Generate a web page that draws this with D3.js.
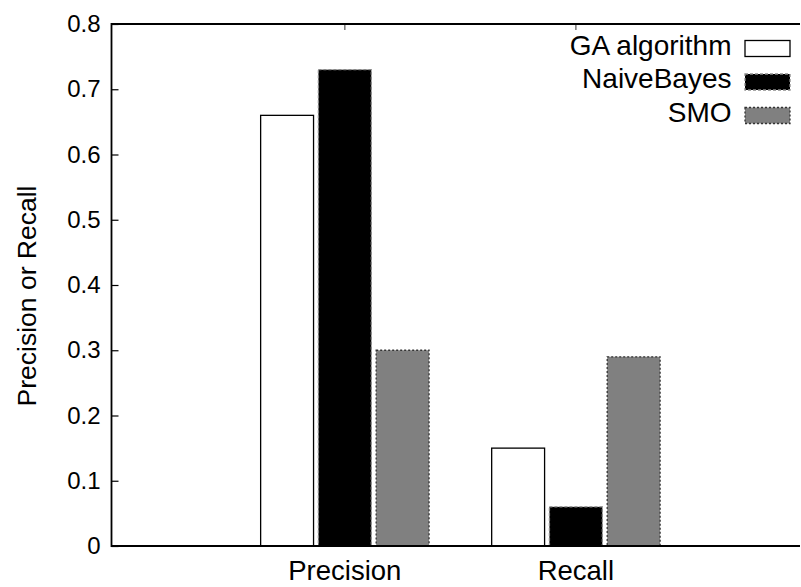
<!DOCTYPE html>
<html><head><meta charset="utf-8">
<script src="https://cdn.jsdelivr.net/npm/d3@7"></script>
<style>body{margin:0;background:#fff}svg{display:block}text{font-family:"Liberation Sans",Arial,sans-serif;fill:#000}</style>
</head><body>
<script>
const categories = ["Precision", "Recall"];
const seriesNames = ["GA algorithm", "NaiveBayes", "SMO"];
const gaValues = [0.66, 0.15];
const nbValues = [0.73, 0.06];
const smoValues = [0.30, 0.29];
const yTicks = [0, 0.1, 0.2, 0.3, 0.4, 0.5, 0.6, 0.7, 0.8];
const yTickLabels = ["0", "0.1", "0.2", "0.3", "0.4", "0.5", "0.6", "0.7", "0.8"];

(function () {
const W = 801, H = 587;
const pLeft = 111.5, pRight = 800, pTop = 24, pBottom = 546;
const svg = d3.select("body").append("svg").attr("width", W).attr("height", H);

const x = d3.scaleLinear().domain([-1.01, 1.97]).range([pLeft, pRight]);
const y = d3.scaleLinear().domain([0, 0.8]).range([pBottom, pTop]);

const styles = [
  {fill: "#ffffff", stroke: "#000", dash: null, sw: 1.3},
  {fill: "#000000", stroke: "#8a8a8a", dash: "3,2", sw: 1.3},
  {fill: "#808080", stroke: "#333", dash: "2,2", sw: 1.3}
];
const series = [gaValues, nbValues, smoValues];
const offset = 0.25, bw = 0.229;

series.forEach((vals, si) => {
  svg.append("g").selectAll("rect").data(vals).join("rect")
    .attr("x", (d, i) => x(i + (si - 1) * offset - bw / 2))
    .attr("width", x(bw) - x(0))
    .attr("y", d => y(d))
    .attr("height", d => y(0) - y(d))
    .attr("fill", styles[si].fill)
    .attr("stroke", styles[si].stroke)
    .attr("stroke-width", styles[si].sw)
    .attr("stroke-dasharray", styles[si].dash);
});

const yAxis = d3.axisLeft(y).tickValues(yTicks).tickFormat((d, i) => yTickLabels[i]).tickSize(-7).tickPadding(11);
const ga = svg.append("g").attr("transform", `translate(${pLeft},0)`).call(yAxis);
ga.select(".domain").remove();
ga.selectAll("line").attr("stroke", "#000").attr("stroke-width", 1.2);
ga.selectAll("text").attr("font-size", 24).attr("font-family", "Liberation Sans, Arial, sans-serif").attr("fill", "#000");

svg.append("g").selectAll("line").data(categories).join("line")
  .attr("x1", (d, i) => x(i)).attr("x2", (d, i) => x(i))
  .attr("y1", pTop).attr("y2", pTop + 6)
  .attr("stroke", "#555").attr("stroke-width", 1.2);

svg.append("path")
  .attr("d", `M${pRight},${pTop}H${pLeft}V${pBottom}H${pRight}`)
  .attr("fill", "none").attr("stroke", "#000").attr("stroke-width", 1.8);

svg.append("g").selectAll("text").data(categories).join("text")
  .attr("x", (d, i) => x(i)).attr("y", 580)
  .attr("text-anchor", "middle").attr("font-size", 27.5)
  .text(d => d);

svg.append("text")
  .attr("transform", "translate(36,296) rotate(-90)")
  .attr("text-anchor", "middle").attr("font-size", 26.5)
  .text("Precision or Recall");

const lg = svg.append("g");
seriesNames.forEach((name, i) => {
  const by = 40.5 + i * 33.5;
  lg.append("text").attr("x", 731.5).attr("y", by + 14)
    .attr("text-anchor", "end").attr("font-size", 28).text(name);
  lg.append("rect").attr("x", 745).attr("y", by).attr("width", 45).attr("height", 16)
    .attr("fill", styles[i].fill).attr("stroke", styles[i].stroke)
    .attr("stroke-width", styles[i].sw).attr("stroke-dasharray", styles[i].dash);
});
})();
</script>
</body></html>
